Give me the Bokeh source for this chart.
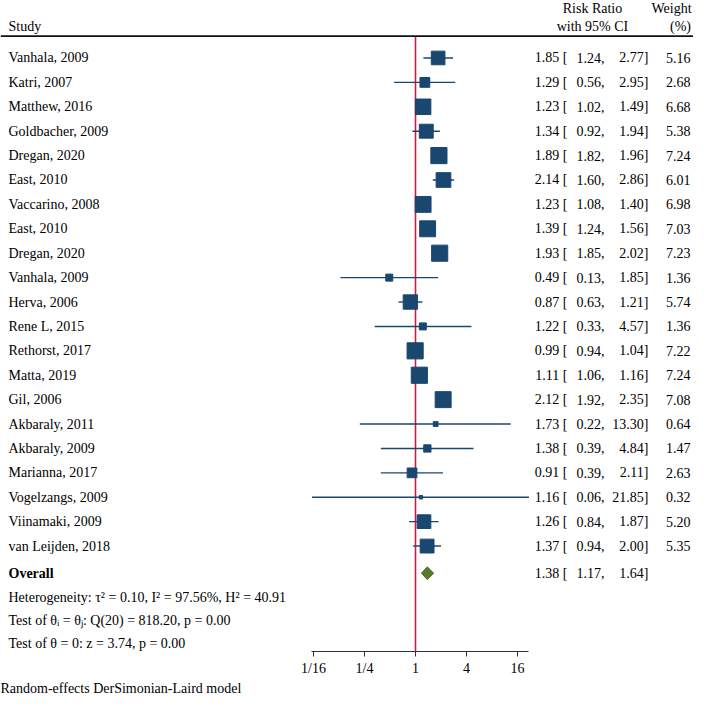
import numpy as np
from bokeh.plotting import figure
from bokeh.models import Range1d, FixedTicker, Span, Title, ColumnDataSource
from bokeh.core.properties import value
from bokeh.embed import file_html
from bokeh.resources import INLINE

# ---------------- data ----------------
studies = ["Vanhala, 2009", "Katri, 2007", "Matthew, 2016", "Goldbacher, 2009",
           "Dregan, 2020", "East, 2010", "Vaccarino, 2008", "East, 2010",
           "Dregan, 2020", "Vanhala, 2009", "Herva, 2006", "Rene L, 2015",
           "Rethorst, 2017", "Matta, 2019", "Gil, 2006", "Akbaraly, 2011",
           "Akbaraly, 2009", "Marianna, 2017", "Vogelzangs, 2009",
           "Viinamaki, 2009", "van Leijden, 2018"]
rr = [1.85, 1.29, 1.23, 1.34, 1.89, 2.14, 1.23, 1.39, 1.93, 0.49, 0.87,
      1.22, 0.99, 1.11, 2.12, 1.73, 1.38, 0.91, 1.16, 1.26, 1.37]
ci_low = [1.24, 0.56, 1.02, 0.92, 1.82, 1.60, 1.08, 1.24, 1.85, 0.13, 0.63,
          0.33, 0.94, 1.06, 1.92, 0.22, 0.39, 0.39, 0.06, 0.84, 0.94]
ci_high = [2.77, 2.95, 1.49, 1.94, 1.96, 2.86, 1.40, 1.56, 2.02, 1.85, 1.21,
           4.57, 1.04, 1.16, 2.35, 13.30, 4.84, 2.11, 21.85, 1.87, 2.00]
weight = [5.16, 2.68, 6.68, 5.38, 7.24, 6.01, 6.98, 7.03, 7.23, 1.36, 5.74,
          1.36, 7.22, 7.24, 7.08, 0.64, 1.47, 2.63, 0.32, 5.20, 5.35]
overall_rr = 1.38
overall_low = 1.17
overall_high = 1.64
tick_values = [1 / 16, 1 / 4, 1, 4, 16]
tick_labels = ["1/16", "1/4", "1", "4", "16"]
stats_lines = ["Heterogeneity: \u03c4\u00b2 = 0.10, I\u00b2 = 97.56%, H\u00b2 = 40.91",
               "Test of \u03b8\u1d62 = \u03b8\u2c7c: Q(20) = 818.20, p = 0.00",
               "Test of \u03b8 = 0: z = 3.74, p = 0.00"]
footnote = "Random-effects DerSimonian-Laird model"

# ---------------- layout helpers (figure pixels -> data) ----------------
PX_ONE = 415.0      # x of RR = 1
PX_PER_LOG2 = 25.5  # pixels per doubling
ROW0 = 58.0         # y of first study row
ROW_H = 24.63       # row spacing
AXIS_Y = 657.0      # y of the axis line (frame bottom)


def xd(px):
    return 2 ** ((px - PX_ONE) / PX_PER_LOG2)


def yr(py):
    return (py - ROW0) / ROW_H


FONT = value("Liberation Serif")
FS = "14px"
NAVY = "#1a476f"
GREEN = "#56782f"
RED = "#c81e45"

W, H = 693, 695
p = figure(width=W, height=H, x_axis_type="log",
           x_range=Range1d(xd(0), xd(W)), y_range=Range1d(yr(AXIS_Y), yr(0)),
           output_backend="svg", toolbar_location=None,
           min_border_left=0, min_border_right=0, min_border_top=0,
           min_border_bottom=int(H - AXIS_Y))
p.outline_line_color = None
p.grid.visible = False
p.yaxis.visible = False

rows = list(range(len(studies)))
n = len(rows)
src = ColumnDataSource(dict(
    y=rows, study=studies, rr=rr, lo=ci_low, hi=ci_high, w=weight,
    size=[6.0 * np.sqrt(w) for w in weight],
    est_txt=[f"{v:.2f} [" for v in rr],
    lo_txt=[f"{v:.2f}," for v in ci_low],
    hi_txt=[f"{v:.2f}]" for v in ci_high],
    w_txt=[f"{v:.2f}" for v in weight],
    x_study=[xd(8)] * n, x_est=[xd(567)] * n,
    x_lo=[xd(604)] * n, x_hi=[xd(648)] * n,
    x_w=[xd(690)] * n,
))

# header
header_line_y = yr(36)
p.add_layout(Span(location=header_line_y, dimension="width",
                  line_color="#111111", line_width=1.6))
p.text(x=[xd(8)], y=[yr(26)], text=["Study"], text_font=FONT,
       text_font_size=FS, text_baseline="middle", text_align="left")
p.text(x=[xd(592), xd(592), xd(671), xd(680)],
       y=[yr(8), yr(26), yr(8), yr(26)],
       text=["Risk Ratio", "with 95% CI", "Weight", "(%)"], text_font=FONT,
       text_font_size=FS, text_baseline="middle", text_align="center")

# reference line at RR = 1
p.segment(x0=[1], x1=[1], y0=[header_line_y], y1=[yr(AXIS_Y)],
          line_color=RED, line_width=1.6)

# CIs and boxes
p.segment(x0="lo", x1="hi", y0="y", y1="y", source=src,
          line_color=NAVY, line_width=1.4)
p.scatter(x="rr", y="y", size="size", marker="square", source=src,
          fill_color=NAVY, line_color=NAVY)

# text columns
p.text(x="x_study", y="y", text="study", source=src, text_font=FONT,
       text_font_size=FS, text_baseline="middle", text_align="left")
for col, xcol in [("est_txt", "x_est"), ("lo_txt", "x_lo"),
                  ("hi_txt", "x_hi"), ("w_txt", "x_w")]:
    p.text(x=xcol, y="y", text=col, source=src, text_font=FONT,
           text_font_size=FS, text_baseline="middle", text_align="right")

# overall
oy = yr(578)
dh = 6.5 / ROW_H
p.patch(x=[overall_low, overall_rr, overall_high, overall_rr],
        y=[oy, oy - dh, oy, oy + dh], fill_color=GREEN, line_color=GREEN)
p.text(x=[xd(8)], y=[oy], text=["Overall"], text_font=FONT,
       text_font_size=FS, text_font_style="bold", text_baseline="middle",
       text_align="left")
p.text(x=[xd(567), xd(604), xd(648)], y=[oy] * 3,
       text=[f"{overall_rr:.2f} [", f"{overall_low:.2f},", f"{overall_high:.2f}]"],
       text_font=FONT, text_font_size=FS, text_baseline="middle",
       text_align="right")

# stats lines
p.text(x=[xd(8)] * 3, y=[yr(602), yr(626), yr(649)], text=stats_lines,
       text_font=FONT, text_font_size=FS, text_baseline="middle",
       text_align="left")

# axis
ax = p.xaxis[0]
ax.ticker = FixedTicker(ticks=tick_values)
ax.major_label_overrides = {v: l for v, l in zip(tick_values, tick_labels)}
ax.bounds = (min(ci_low), max(ci_high))
ax.axis_line_color = "#333333"
ax.major_tick_line_color = "#333333"
ax.major_tick_out = 5
ax.major_tick_in = 0
ax.minor_tick_line_color = None
ax.major_label_standoff = 4
ax.major_label_text_font = "Liberation Serif"
ax.major_label_text_font_size = FS
ax.major_label_text_color = "black"

p.add_layout(Title(text=footnote, align="left", text_font="Liberation Serif",
                   text_font_size=FS, text_font_style="normal",
                   text_color="black", standoff=0), "below")

open("out.html", "w").write(file_html(p, INLINE))
